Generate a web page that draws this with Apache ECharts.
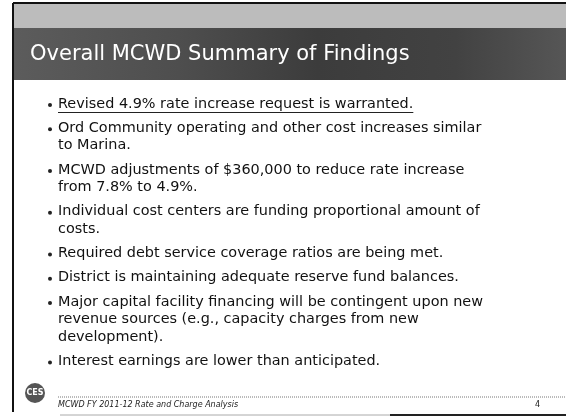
<!DOCTYPE html>
<html>
<head>
<meta charset="utf-8">
<script src="https://cdn.jsdelivr.net/npm/echarts@6/dist/echarts.min.js"></script>
<style>
  html,body{margin:0;padding:0;background:#fff}
  #chart{width:566px;height:418px}
</style>
</head>
<body>
<div id="chart"></div>
<script>
const title = 'Overall MCWD Summary of Findings'
const bullets = [
  ['Revised 4.9% rate increase request is warranted.'],
  ['Ord Community operating and other cost increases similar', 'to Marina.'],
  ['MCWD adjustments of $360,000 to reduce rate increase', 'from 7.8% to 4.9%.'],
  ['Individual cost centers are funding proportional amount of', 'costs.'],
  ['Required debt service coverage ratios are being met.'],
  ['District is maintaining adequate reserve fund balances.'],
  ['Major capital facility financing will be contingent upon new', 'revenue sources (e.g., capacity charges from new', 'development).'],
  ['Interest earnings are lower than anticipated.']
]
const footerText = 'MCWD FY 2011-12 Rate and Charge Analysis'
const pageNo = '4'

const FONT = '"DejaVu Sans", Verdana, sans-serif'
const bodySize = 14
const sx = 1.03

function measure(t, size){
  const c = document.createElement('canvas').getContext('2d')
  c.font = size + 'px ' + FONT
  return c.measureText(t).width
}

const chart = echarts.init(document.getElementById('chart'))
const g = []

// header bands
g.push({type:'rect', shape:{x:13, y:3, width:553, height:25}, style:{fill:'#bcbcbc'}})
g.push({type:'rect', shape:{x:13, y:28, width:553, height:52}, style:{
  fill:new echarts.graphic.LinearGradient(0,0,1,0,[
    {offset:0, color:'#5c5c5c'},{offset:0.3, color:'#4e4e4e'},{offset:0.55, color:'#3c3c3c'},
    {offset:0.8, color:'#424242'},{offset:1, color:'#565656'}])}})
g.push({type:'text', x:30, y:55, style:{text:title, font:'21px ' + FONT, fill:'#fff',
  textVerticalAlign:'middle', shadowColor:'rgba(0,0,0,0.6)', shadowBlur:2, shadowOffsetX:1, shadowOffsetY:1}})

// slide border
g.push({type:'line', shape:{x1:13, y1:3, x2:566, y2:3}, style:{stroke:'#111', lineWidth:2}})
g.push({type:'line', shape:{x1:13, y1:3, x2:13, y2:412}, style:{stroke:'#111', lineWidth:2}})
g.push({type:'line', shape:{x1:60, y1:415, x2:390, y2:415}, style:{stroke:'#aaa', lineWidth:1}})
g.push({type:'line', shape:{x1:390, y1:415, x2:566, y2:415}, style:{stroke:'#222', lineWidth:2}})

// bullets
let y = 104
const lineH = 17.6, gap = 6.6
bullets.forEach((lines, i) => {
  g.push({type:'circle', shape:{cx:50, cy:y + 1, r:2}, style:{fill:'#222'}})
  lines.forEach((t, j) => {
    g.push({type:'text', x:58, y:y, scaleX:sx, style:{text:t, font:bodySize + 'px ' + FONT, fill:'#111', textVerticalAlign:'middle'}})
    if (i === 0) {
      const w = measure(t, bodySize) * sx
      g.push({type:'line', shape:{x1:58, y1:y + 8.5, x2:58 + w, y2:y + 8.5}, style:{stroke:'#222', lineWidth:1}})
    }
    y += lineH
  })
  y += gap
})

// footer
g.push({type:'circle', shape:{cx:35, cy:393, r:10}, style:{fill:'#555'}})
g.push({type:'text', x:35, y:393, style:{text:'CES', font:'bold 8px ' + FONT, fill:'#fff', textAlign:'center', textVerticalAlign:'middle'}})
g.push({type:'line', shape:{x1:58, y1:397, x2:566, y2:397}, style:{stroke:'#777', lineWidth:1, lineDash:[1,1]}})
g.push({type:'text', x:58, y:405, style:{text:footerText, font:'italic 8px ' + FONT, fill:'#222', textVerticalAlign:'middle'}})
g.push({type:'text', x:535, y:405, style:{text:pageNo, font:'8px ' + FONT, fill:'#222', textVerticalAlign:'middle'}})

chart.setOption({animation:false, graphic:{elements:g}})
</script>
</body>
</html>
